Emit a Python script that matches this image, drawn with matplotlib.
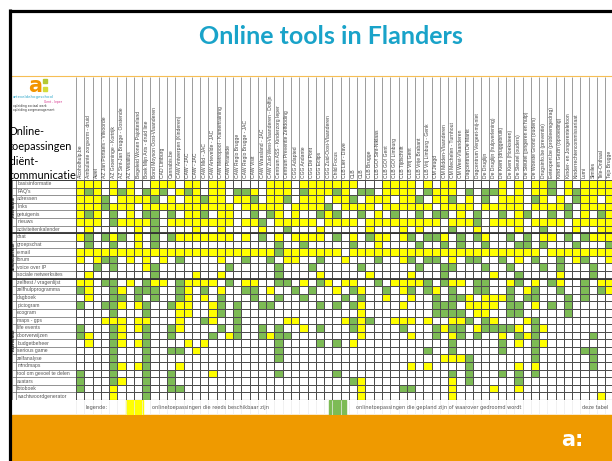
import numpy as np
import matplotlib.pyplot as plt
from matplotlib.colors import ListedColormap
from matplotlib.patches import Rectangle

W, H = 612, 461

title = "Online tools in Flanders"

rows = ["basisinformatie", "FAQ's", "adressen", "links", "getuigenis", "nieuws",
        "activiteitenkalender", "chat", "groepschat", "e-mail", "forum",
        "voice over IP", "sociale netwerksites", "zelftest / vragenlijst",
        "zelfhulpprogramma", "dagboek", "pictogram", "ecogram", "maps - gps",
        "life events", "doorverwijzen", "budgetbeheer", "serious game",
        "zelfanalyse", "mindmaps", "tool om gevoel te delen", "avatars",
        "fotoboek", "wachtwoordgenerator"]

groups = [("informatie", 0, 7), ("communicatie", 7, 13), ("interventie", 13, 29)]

cols = ["Alcoholhulp.be", "Ambulante zorgvorm - druid", "Awel",
        "AZ Jan Portaels - Vilvoorde", "AZ Groeninge - Kortrijk",
        "AZ Sint-Jan Brugge - Oostende", "AZ Vesalius", "Begeleid Wonen Pajottenland",
        "Boek Mijn Arts - druid line", "Bond Moyson Oost-Vlaanderen", "CAD Limburg",
        "Cannabis.be", "CAW Antwerpen (Kinderen)", "CAW - JAC", "CAW - JAC",
        "CAW Mid - JAC", "CAW Artevelde - JAC", "CAW Metropool - Kamertraining",
        "CAW Piramide", "CAW Regio Brugge", "CAW Regio Brugge - JAC", "CAW Visit",
        "CAW Waasland - JAC", "CAW Zuid-West-Vlaanderen - Dolfijn",
        "Centrum ASS - Kinderzorg Ieper", "Centrum Preventie Zelfdoding",
        "CGG Adapted", "CGG Andante", "CGG De Pont", "CGG Eclips",
        "CGG Zuid-Oost-Vlaanderen", "Child Focus", "CLB Lier - Dave", "CLB", "CLB",
        "CLB Brugge", "CLB GO! Sint-Niklaas", "CLB GO! Gent", "CLB GO! Limburg",
        "CLB Tijdschrift", "CLB Vrij Gent", "CLB Vrije Brabant",
        "CLB Vrij Limburg - Genk", "CM Jeugd", "CM Midden-Vlaanderen",
        "CM Mechelen - Turnhout", "CM West-Vlaanderen", "Dagcentrum De Markt",
        "Dagcentrum Vergeet-mij-niet", "De Druglijn", "De Druglijn (hulpverlening)",
        "De Kiem (druggebruik)", "De Kiem (Hoeksteen)", "De Sleutel (ouders)",
        "De Sleutel (jongeren en hulp)", "De Woeste Grond (ouders)",
        "Drugsinfo.be (preventie)", "Eetexpert.be (probleemgedrag)",
        "Kind en Gezin (opvoeding)", "Kinder- en Jongerentelefoon",
        "Kinderrechtencommissariaat", "Lumi", "Similes", "Tele-Onthaal",
        "Tejo Brugge"]

# '.' = niets, 'y' = reeds beschikbaar, 'g' = gepland / gedroomd
cells = [
    "yyy.y.y..yyy.yy" + ".yy.....yyy.yyyyyyy...yyy" + "y.y.yy.....y.y.yyg.y.yyyy",
    "ygy.ygy.gyg.ygy" + ".yy.ggy.yyy.gyyygy.gg.yyy" + "y.gyyy.g.ggy.y.yyg.ygyyyy",
    "yyyg.yyyyg.y.yy" + "gyy.yyg.yyg.yyy.yyg.yyy.y" + "yg.yyg.y.g.yyy.gy.y.gyy.y",
    "yyygyyy.yyyyyyy" + "yyyy.yyyyy.yyyyg.yyyy.yyy" + "yyy.yyyy.yyyyy.yyyyg.yyyy",
    "ygy.g.y.gg.g.yy" + "g.yy..g.gy.y..gyg..g.y.g." + ".g.gg.y.g..g.yg..g.g.y.gy",
    "yyy.gyyyyg.yyyy" + "yyyy.yyg.yyyyy.yyyy.yyyyy" + "yyyy.yyyg.yyyy.yyyy.yyyyy",
    ".y.....y.g....y" + "..y....y..g...y.....y...y" + ".y...g..y....y..g...y..yy",
    "yg.gyg.y.g.gyyy" + "yyyy.y.g.y.yyyy.g.y.gyy.y" + "g.ggy.g.gy..g.g.yy.g.gyyy",
    ".g..g..y.g....." + ".........g..g.....g..y..." + ".g..g.g..g...gg.g...g...g",
    "yyyyyyyyyyyyyyy" + "yyyyyyyyygyyyyyyy.yyyyyyy" + "yyyyyyyyyyyyyyyy.yyyyyyyy",
    "y.ygg.y.y.y.g.." + "..y..g..g.yy..g..y...g..y" + "g.gg.y.gg..g.y.g..g.yg..y",
    "..g.g...yg....." + "...g.....g...g.....g....." + ".g..gg...g..g...g.g...g..",
    ".y.......g....y" + "..y......g....y.....y...." + "y...g.....y..g....y...g..",
    "yy.gg.y.gyy.gyy" + "yy.g.yy..gg.y.gy.yy..g.yy" + "yyg.gyy.gg..yg.y.gy..g.yy",
    "gy..gy.ggg..gy." + "g.y..gg.y..g.g..y.gy..g.y" + "g.gy.g..gg..g.yg..g..g.gy",
    ".y..gg.g.g..gy." + "y.g...g..g..g....g.g..y.." + "y..g.ggy.yyyg.gg...g.g...",
    "g..ggy.yg..gyy." + ".yg.g..gg.....g.g.gy....y" + "...ggg.yyyy.gg.y.g.g.....",
    "....g...g...yy." + ".yg.g..............y....." + "...gggg.yy..gg.....g.....",
    "...yyy.yy...y.." + "gy..g.....yy.....ygyg..yy" + "y.y..yyg.gy...yg.........",
    "g...gy.yg..gy.." + "..g.g..g.g..y.g...gy....g" + "...gygg.yggggy.gy........",
    "gy..gy..g..g..." + ".g.yg..gygg........y....." + "y..g.yg.g..y.gyg......g..",
    ".y..gy.yg....y." + "y........g....g.g.y......" + ".....g.....g.y.gy........",
    "....g...g..gg.y" + ".........g..............." + "..g..g.....g...g.....gg..",
    "....g...g......" + ".........g..............." + "....yyyg.......g......g..",
    "....gy.yg...y.." + "........................." + "y.y....g.....y.y......g..",
    "g...g...g..g..." + ".y.......g......g........" + ".....g.g...g.g.g.........",
    "g...gy..g..g..." + "..................gy....." + ".....y.g.....g...........",
    "g...y...g..gg.." + "...................y....g" + "g....y....y..y...........",
    "....y...g......" + "...................y....." + ".....y.................y.",
]

legend_items = ["onlinetoepassingen die reeds beschikbaar zijn",
                "onlinetoepassingen die gepland zijn of waarover gedroomd wordt"]

code = {'.': 0, 'y': 1, 'g': 2}
grid = np.array([[code[c] for c in r] for r in cells])
nrow, ncol = grid.shape

YELLOW = '#FFFF00'
GREEN = '#7DBB55'
ORANGE = '#EF9A00'
BLUE = '#19A3C9'

x0, dx = 76, 8.27
y_top, y_grid, y_bot, y_leg = 77, 180, 400, 415
x_end = x0 + ncol * dx


def frac(xa, ya, xb, yb):
    return [xa / W, 1 - yb / H, (xb - xa) / W, (yb - ya) / H]


fig = plt.figure(figsize=(6.12, 4.61), dpi=100)
fig.patch.set_facecolor('white')

bg = fig.add_axes([0, 0, 1, 1])
bg.set_xlim(0, W)
bg.set_ylim(H, 0)
bg.axis('off')

# titel
bg.text(331, 37, title, ha='center', va='center', fontsize=18,
        fontweight='bold', color=BLUE, family='Lato')
bg.plot([12, W], [76.5, 76.5], color='#F6BE55', lw=0.8)

# logo linksboven
bg.text(35, 86, 'a', ha='center', va='center', fontsize=15,
        fontweight='bold', color='#F29400', family='DejaVu Sans')
bg.add_patch(Rectangle((43, 79), 4, 4, color='#B5C933'))
bg.add_patch(Rectangle((43, 87), 4, 4, color='#D4DC3A'))
bg.text(13, 97, 'arteveldehogeschool', fontsize=2.8, color='#2AA5C8', va='center')
bg.text(44, 101.5, 'Gent - Ieper', fontsize=2.2, color='#D62E8A', va='center')
bg.text(13, 106, 'opleiding sociaal werk', fontsize=2.2, color='#333333', va='center')
bg.text(13, 110, 'opleiding zorgmanagement', fontsize=2.2, color='#333333', va='center')

for txt, yy in zip(["Online-", "toepassingen", "cliënt-", "communicatie"],
                   [131, 146, 161, 175]):
    bg.text(8.5, yy, txt, fontsize=7.8, va='center', color='black', family='Lato')

# onderste oranje balk
bg.add_patch(Rectangle((12, y_leg), W - 12, H - y_leg, color=ORANGE, zorder=3))
bg.text(572, 440, 'a:', ha='center', va='center', fontsize=15,
        fontweight='heavy', color='white', family='DejaVu Sans', zorder=4)

# kolomkoppen
ax_head = fig.add_axes(frac(x0, y_top, x_end, y_grid))
ax_head.set_xlim(0, ncol)
ax_head.set_ylim(0, 1)
ax_head.axis('off')
ax_head.vlines(np.arange(ncol + 1), 0, 1, color='#8c8c8c', lw=0.6)
for i, name in enumerate(cols):
    ax_head.text(i + 0.5, 0.02, name, rotation=90, ha='center', va='bottom',
                 fontsize=3.6, color='#444444', family='Liberation Sans')

# rijlabels
ax_lab = fig.add_axes(frac(12, y_grid, x0, y_bot))
ax_lab.set_xlim(0, x0 - 12)
ax_lab.set_ylim(nrow, 0)
ax_lab.axis('off')
ax_lab.hlines(np.arange(nrow + 1), 0, x0 - 12, color='#666666', lw=0.5)
ax_lab.vlines([0.3, 4, x0 - 12], 0, nrow, color='#666666', lw=0.5)
for i, name in enumerate(rows):
    ax_lab.text(5.2, i + 0.5, name, va='center', ha='left', fontsize=3.6,
                color='#555555', family='Liberation Sans')
for name, a, b in groups:
    ax_lab.text(2.1, (a + b) / 2, name, rotation=90, va='center', ha='center',
                fontsize=2.6, color='#222222', fontweight='bold')
    ax_lab.hlines([a], 0, x0 - 12, color='#333333', lw=1.3)

# tabel
ax = fig.add_axes(frac(x0, y_grid, x_end, y_bot))
cmap = ListedColormap(['white', YELLOW, GREEN])
ax.pcolormesh(np.arange(ncol + 1), np.arange(nrow + 1), grid, cmap=cmap,
              vmin=0, vmax=2, edgecolors='#4d4d4d', linewidth=0.55)
ax.set_xlim(0, ncol)
ax.set_ylim(nrow, 0)
ax.axis('off')
for a in [g[1] for g in groups[1:]]:
    ax.axhline(a, color='#333333', lw=1.3)
ax.axhline(nrow, color='#333333', lw=0.8)

# legende
ax_leg = fig.add_axes(frac(x0, y_bot, x_end, y_leg))
ax_leg.set_xlim(0, ncol)
ax_leg.set_ylim(1, 0)
ax_leg.axis('off')
ax_leg.vlines(np.arange(ncol + 1), 0, 1, color='#ececec', lw=0.5)
ax_leg.text(1.1, 0.5, 'legende:', va='center', fontsize=3.6, color='#555555')
ax_leg.add_patch(Rectangle((6.05, 0), 2.05, 1, color=YELLOW))
ax_leg.text(9.2, 0.5, legend_items[0], va='center', fontsize=3.6, color='#555555')
ax_leg.add_patch(Rectangle((30.6, 0), 2.05, 1, color=GREEN))
ax_leg.text(33.9, 0.5, legend_items[1], va='center', fontsize=3.6, color='#555555')
ax_leg.text(61.2, 0.5, 'deze tabel', va='center', fontsize=3.6, color='#555555')

# kader van de dia
bg2 = fig.add_axes([0, 0, 1, 1], facecolor='none')
bg2.set_xlim(0, W)
bg2.set_ylim(H, 0)
bg2.axis('off')
bg2.add_patch(Rectangle((0, 0), 8.5, H, color='white'))
bg2.add_patch(Rectangle((0, 0), W, 9.5, color='white'))
bg2.plot([10.2, 10.2], [9.5, H], color='black', lw=2.3, solid_capstyle='butt')
bg2.plot([9, W], [10.8, 10.8], color='black', lw=2.3, solid_capstyle='butt')

fig.savefig('out.png', dpi=100)
